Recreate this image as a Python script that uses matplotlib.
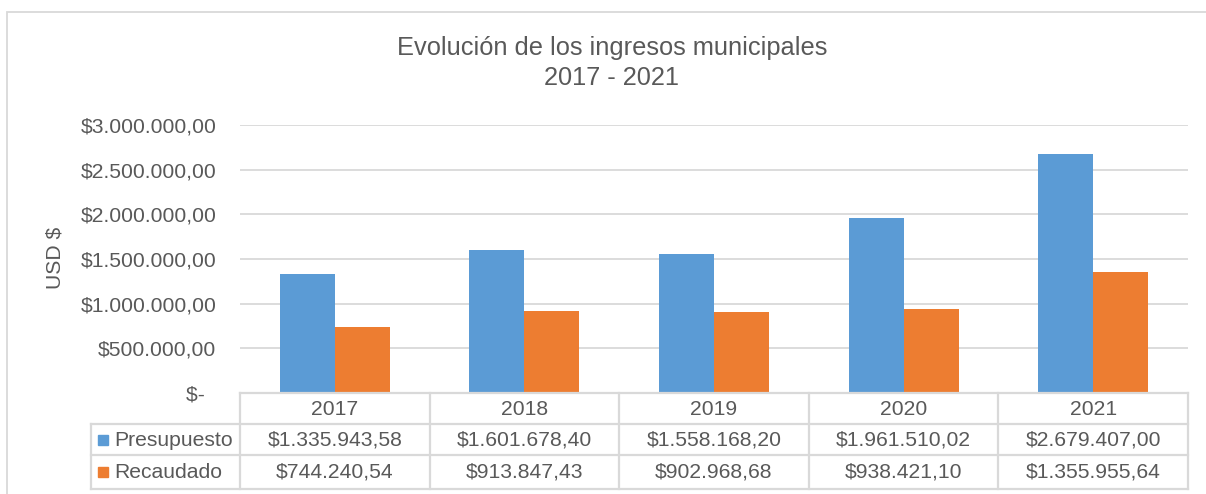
import matplotlib.pyplot as plt
import matplotlib.patches as patches
from matplotlib.lines import Line2D
from matplotlib.ticker import FuncFormatter
import matplotlib.transforms as mtransforms

plt.rcParams['font.family'] = ['Liberation Sans', 'DejaVu Sans']

years = ['2017', '2018', '2019', '2020', '2021']
presupuesto = [1335943.58, 1601678.40, 1558168.20, 1961510.02, 2679407.00]
recaudado = [744240.54, 913847.43, 902968.68, 938421.10, 1355955.64]
series_names = ['Presupuesto', 'Recaudado']
colors = ['#5b9bd5', '#ed7d31']
grey_text = '#595959'
grey_line = '#d9d9d9'

W, H = 1206, 494


def fx(px):
    return px / W


def fy(py):
    return 1 - py / H


def money(v):
    s = f"{v:,.2f}"
    return "$" + s.replace(",", "X").replace(".", ",").replace("X", ".")


fig = plt.figure(figsize=(W / 100, H / 100), dpi=100)

# outer chart border
fig.add_artist(patches.Rectangle((fx(7), fy(520)), fx(1230) - fx(7), fy(12) - fy(520),
                                 transform=fig.transFigure, fill=False,
                                 ec=grey_line, lw=1.3))

ax = fig.add_axes([fx(240), fy(393), fx(1188) - fx(240), fy(125) - fy(393)])
x = list(range(len(years)))
bw = 0.29
ax.bar([i - bw / 2 for i in x], presupuesto, bw, color=colors[0])
ax.bar([i + bw / 2 for i in x], recaudado, bw, color=colors[1])
ax.set_xlim(-0.5, len(years) - 0.5)
ax.set_ylim(0, 3000000)
ax.set_yticks([0, 500000, 1000000, 1500000, 2000000, 2500000, 3000000])
ax.yaxis.set_major_formatter(FuncFormatter(lambda v, p: "$-  " if v == 0 else money(v)))
ax.tick_params(axis='y', length=0, pad=17, labelsize=15.2, labelcolor=grey_text)
ax.set_xticks([])
ax.grid(axis='y', color=grey_line, lw=1.3)
ax.set_axisbelow(True)
for s in ax.spines.values():
    s.set_visible(False)

fig.text(fx(55), fy(258), 'USD $', rotation=90, ha='center', va='center',
         fontsize=15.2, color=grey_text)

# title
fig.text(fx(612), fy(63), 'Evolución de los ingresos municipales\n2017 - 2021',
         ha='center', va='center', fontsize=18.3, color=grey_text, linespacing=1.3)

# data table
bt = mtransforms.blended_transform_factory(ax.transData, fig.transFigure)
rows_y = [393, 424, 455, 489]
for py in rows_y:
    x0 = 240 if py == 393 else 91
    fig.add_artist(Line2D([fx(x0), fx(1188)], [fy(py), fy(py)],
                          transform=fig.transFigure, color=grey_line, lw=1.6))
for i in range(len(years) + 1):
    fig.add_artist(Line2D([i - 0.5, i - 0.5], [fy(393), fy(489)],
                          transform=bt, color=grey_line, lw=1.6))
fig.add_artist(Line2D([fx(91), fx(91)], [fy(424), fy(489)],
                      transform=fig.transFigure, color=grey_line, lw=1.6))

for i, yr in enumerate(years):
    fig.text(i, fy(409), yr, transform=bt, ha='center', va='center',
             fontsize=15.2, color=grey_text)
for row, (vals, name, c) in enumerate(zip([presupuesto, recaudado], series_names, colors)):
    cy = [440, 472][row]
    for i, v in enumerate(vals):
        fig.text(i, fy(cy), money(v), transform=bt, ha='center', va='center',
                 fontsize=15.2, color=grey_text)
    fig.add_artist(patches.Rectangle((fx(98), fy(cy + 5)), fx(108) - fx(98), fy(cy - 5) - fy(cy + 5),
                                     transform=fig.transFigure, color=c))
    fig.text(fx(114), fy(cy), name, ha='left', va='center', fontsize=15.2, color=grey_text)

fig.savefig('out.png', dpi=100)
plt.close(fig)
